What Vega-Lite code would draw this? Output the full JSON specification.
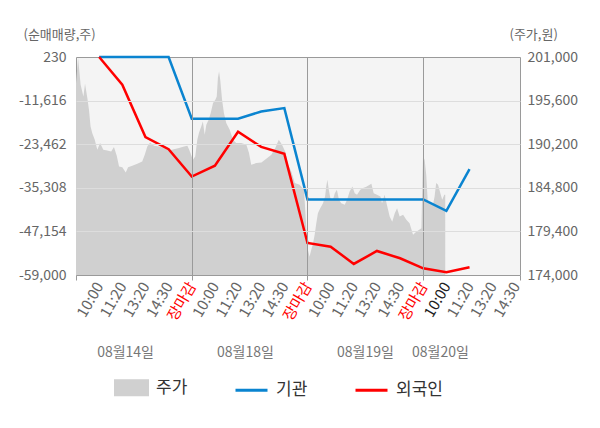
{
  "$schema": "https://vega.github.io/schema/vega-lite/v6.json",
  "width": 444,
  "height": 218,
  "autosize": {"type": "none"},
  "padding": {"left": 76, "top": 57, "right": 80, "bottom": 153},
  "background": "#ffffff",
  "config": {
    "font": "Noto Sans CJK KR",
    "view": {"fill": "#f4f4f4", "stroke": "#9a9a9a"}
  },
  "datasets": {
    "price": [
      {"t": 0, "price": 197780}, {"t": 0.09, "price": 200880}, {"t": 0.2, "price": 197570}, {"t": 0.32, "price": 196110},
      {"t": 0.39, "price": 197690}, {"t": 0.49, "price": 195920}, {"t": 0.56, "price": 194470}, {"t": 0.63, "price": 192390},
      {"t": 0.7, "price": 191580}, {"t": 0.81, "price": 190750}, {"t": 0.92, "price": 189510}, {"t": 1.04, "price": 190340},
      {"t": 1.18, "price": 189510}, {"t": 1.35, "price": 189420}, {"t": 1.52, "price": 189290}, {"t": 1.64, "price": 189840},
      {"t": 1.76, "price": 188760}, {"t": 1.86, "price": 187430}, {"t": 2.0, "price": 187360}, {"t": 2.15, "price": 186690},
      {"t": 2.25, "price": 187360}, {"t": 2.43, "price": 187520}, {"t": 2.65, "price": 187770}, {"t": 2.86, "price": 188050},
      {"t": 2.97, "price": 188890}, {"t": 3.08, "price": 189910}, {"t": 3.2, "price": 190410}, {"t": 3.37, "price": 190000},
      {"t": 3.59, "price": 189910}, {"t": 3.8, "price": 189720}, {"t": 4.02, "price": 189420}, {"t": 4.23, "price": 189590},
      {"t": 4.45, "price": 189720}, {"t": 4.67, "price": 189910}, {"t": 4.81, "price": 190000}, {"t": 4.89, "price": 189510},
      {"t": 5.05, "price": 188270}, {"t": 5.15, "price": 188670}, {"t": 5.24, "price": 190750}, {"t": 5.31, "price": 191580},
      {"t": 5.41, "price": 192390}, {"t": 5.48, "price": 193010}, {"t": 5.56, "price": 191370}, {"t": 5.63, "price": 192610},
      {"t": 5.73, "price": 193230}, {"t": 5.82, "price": 194060}, {"t": 5.92, "price": 195300}, {"t": 6.02, "price": 195710},
      {"t": 6.08, "price": 196110}, {"t": 6.13, "price": 198430}, {"t": 6.18, "price": 199210}, {"t": 6.23, "price": 198190},
      {"t": 6.31, "price": 195710}, {"t": 6.39, "price": 194060}, {"t": 6.49, "price": 192820}, {"t": 6.64, "price": 191990},
      {"t": 6.78, "price": 190750}, {"t": 6.92, "price": 190340}, {"t": 7.14, "price": 190340}, {"t": 7.36, "price": 190130},
      {"t": 7.47, "price": 189130}, {"t": 7.57, "price": 187650}, {"t": 7.79, "price": 187860}, {"t": 8.01, "price": 187930},
      {"t": 8.22, "price": 188390}, {"t": 8.44, "price": 188890}, {"t": 8.61, "price": 189720}, {"t": 8.76, "price": 190750},
      {"t": 8.9, "price": 190130}, {"t": 9.04, "price": 189260}, {"t": 9.16, "price": 187650}, {"t": 9.3, "price": 186810},
      {"t": 9.45, "price": 185380}, {"t": 9.66, "price": 185170}, {"t": 9.85, "price": 184550}, {"t": 9.95, "price": 179800},
      {"t": 10.02, "price": 177110}, {"t": 10.09, "price": 176270}, {"t": 10.16, "price": 177110}, {"t": 10.24, "price": 177940},
      {"t": 10.31, "price": 178970}, {"t": 10.38, "price": 180420}, {"t": 10.45, "price": 181660}, {"t": 10.55, "price": 182280},
      {"t": 10.67, "price": 182900}, {"t": 10.76, "price": 183710}, {"t": 10.81, "price": 184950}, {"t": 10.86, "price": 185790},
      {"t": 10.92, "price": 184550}, {"t": 10.99, "price": 183520}, {"t": 11.1, "price": 183310}, {"t": 11.18, "price": 184140},
      {"t": 11.27, "price": 184550}, {"t": 11.36, "price": 183310}, {"t": 11.46, "price": 182900}, {"t": 11.61, "price": 182690},
      {"t": 11.71, "price": 183310}, {"t": 11.82, "price": 184330}, {"t": 11.94, "price": 184950}, {"t": 12.04, "price": 184140},
      {"t": 12.14, "price": 183930}, {"t": 12.28, "price": 184550}, {"t": 12.4, "price": 184760}, {"t": 12.54, "price": 184920},
      {"t": 12.76, "price": 185290}, {"t": 12.86, "price": 184140}, {"t": 13.0, "price": 183930}, {"t": 13.15, "price": 183710},
      {"t": 13.22, "price": 182900}, {"t": 13.33, "price": 183930}, {"t": 13.43, "price": 182690}, {"t": 13.55, "price": 181230},
      {"t": 13.66, "price": 180610}, {"t": 13.77, "price": 181660}, {"t": 13.87, "price": 182280}, {"t": 13.98, "price": 181230},
      {"t": 14.13, "price": 181450}, {"t": 14.27, "price": 180830}, {"t": 14.41, "price": 180420}, {"t": 14.56, "price": 178970},
      {"t": 14.7, "price": 179370}, {"t": 14.92, "price": 179800},
      {"t": 14.99, "price": 188670}, {"t": 15.06, "price": 188270}, {"t": 15.13, "price": 186410}, {"t": 15.19, "price": 183310},
      {"t": 15.28, "price": 182900}, {"t": 15.42, "price": 182690}, {"t": 15.49, "price": 183710}, {"t": 15.56, "price": 185380},
      {"t": 15.64, "price": 185170}, {"t": 15.74, "price": 184140}, {"t": 15.82, "price": 183310}, {"t": 15.91, "price": 183930},
      {"t": 15.95, "price": 183930}
    ],
    "flow": [
      {"series": "기관", "t": 1, "qty": 230}, {"series": "기관", "t": 2, "qty": 230}, {"series": "기관", "t": 3, "qty": 230},
      {"series": "기관", "t": 4, "qty": 230}, {"series": "기관", "t": 5, "qty": -16557}, {"series": "기관", "t": 6, "qty": -16557},
      {"series": "기관", "t": 7, "qty": -16557}, {"series": "기관", "t": 8, "qty": -14570}, {"series": "기관", "t": 9, "qty": -13645},
      {"series": "기관", "t": 10, "qty": -38458}, {"series": "기관", "t": 11, "qty": -38458}, {"series": "기관", "t": 12, "qty": -38458},
      {"series": "기관", "t": 13, "qty": -38458}, {"series": "기관", "t": 14, "qty": -38458}, {"series": "기관", "t": 15, "qty": -38458},
      {"series": "기관", "t": 16, "qty": -41588}, {"series": "기관", "t": 17, "qty": -30242},
      {"series": "외국인", "t": 1, "qty": 230}, {"series": "외국인", "t": 2, "qty": -7307}, {"series": "외국인", "t": 3, "qty": -21536},
      {"series": "외국인", "t": 4, "qty": -24800}, {"series": "외국인", "t": 5, "qty": -32255}, {"series": "외국인", "t": 6, "qty": -29300},
      {"series": "외국인", "t": 7, "qty": -20094}, {"series": "외국인", "t": 8, "qty": -24175}, {"series": "외국인", "t": 9, "qty": -26080},
      {"series": "외국인", "t": 10, "qty": -50293}, {"series": "외국인", "t": 11, "qty": -51300}, {"series": "외국인", "t": 12, "qty": -56000},
      {"series": "외국인", "t": 13, "qty": -52470}, {"series": "외국인", "t": 14, "qty": -54456}, {"series": "외국인", "t": 15, "qty": -57177},
      {"series": "외국인", "t": 16, "qty": -58265}, {"series": "외국인", "t": 17, "qty": -56905}
    ]
  },
  "layer": [
    {
      "data": {"name": "price"},
      "mark": {"type": "area", "clip": true, "interpolate": "linear"},
      "encoding": {
        "x": {
          "field": "t", "type": "quantitative",
          "scale": {"domain": [0, 19.18], "nice": false, "zero": false},
          "axis": {
            "orient": "bottom",
            "values": [0, 1, 2, 3, 4, 5, 6, 7, 8, 9, 10, 11, 12, 13, 14, 15, 16, 17, 18, 19, 19.18],
            "labelExpr": "datum.value == 0 || datum.value > 19.1 ? '' : datum.value % 5 == 0 ? '장마감' : ['10:00','11:20','13:20','14:30'][datum.value % 5 - 1]",
            "labelAngle": -60, "labelAlign": "right", "labelBaseline": "middle",
            "labelFontSize": 15, "labelPadding": 3, "labelOverlap": false, "labelFlush": false,
            "labelColor": {"condition": [{"test": "datum.value == 16", "value": "#222222"}, {"test": "datum.value % 5 == 0", "value": "#ff0000"}], "value": "#666666"},
            "domain": false, "tickSize": 5, "tickColor": "#9a9a9a",
            "tickOpacity": {"condition": {"test": "datum.value % 5 == 0 || datum.value > 19.1", "value": 1}, "value": 0},
            "grid": true, "gridColor": "#9a9a9a",
            "gridOpacity": {"condition": {"test": "datum.value == 5 || datum.value == 10 || datum.value == 15", "value": 1}, "value": 0},
            "zindex": 1, "title": null
          }
        },
        "y": {
          "field": "price", "type": "quantitative",
          "scale": {"domain": [174000, 201000], "nice": false, "zero": false},
          "axis": {
            "orient": "right",
            "values": [174000, 179400, 184800, 190200, 195600, 201000],
            "labelExpr": "format(datum.value, ',')", "labelFontSize": 14, "labelColor": "#666666", "labelPadding": 7,
            "domain": false, "ticks": false, "grid": false,
            "title": "(주가,원)", "titleAngle": 0, "titleX": -11, "titleY": -23,
            "titleAlign": "left", "titleBaseline": "middle", "titleFontSize": 13,
            "titleFontWeight": "normal", "titleColor": "#666666"
          }
        },
        "color": {
          "datum": "주가", "type": "nominal", "title": null,
          "scale": {"domain": ["주가", "기관", "외국인"], "range": ["#d0d0d0", "#0a84d0", "#ff0000"]},
          "legend": {
            "orient": "none", "legendX": 38, "legendY": 313, "direction": "horizontal", "title": null,
            "labelFontSize": 17, "labelColor": "#333333", "labelOffset": 7, "columnPadding": 41,
            "symbolSize": 1024,
            "encode": {
              "symbols": {
                "update": {
                  "shape": {"signal": "datum.value === '주가' ? 'M-1,-0.44H1V0.44H-1Z' : 'M-1,0H1'"},
                  "fill": {"signal": "datum.value === '주가' ? '#d0d0d0' : 'transparent'"},
                  "stroke": {"signal": "datum.value === '주가' ? 'transparent' : (datum.value === '기관' ? '#0a84d0' : '#ff0000')"},
                  "strokeWidth": {"value": 3},
                  "size": {"value": 1024},
                  "opacity": {"value": 1}
                }
              }
            }
          }
        }
      }
    },
    {
      "data": {"name": "flow"},
      "mark": {"type": "line", "strokeWidth": 2.5},
      "encoding": {
        "x": {
          "field": "t", "type": "quantitative",
          "scale": {"domain": [0, 19.18], "nice": false, "zero": false},
          "axis": {
            "orient": "bottom",
            "values": [2.12, 7.3, 12.48, 15.72],
            "labelExpr": "datum.value < 3 ? '08월14일' : datum.value < 8 ? '08월18일' : datum.value < 13 ? '08월19일' : '08월20일'",
            "domain": false, "ticks": false, "tickSize": 0, "grid": false,
            "labelAngle": 0, "labelAlign": "center", "labelBaseline": "middle",
            "labelPadding": 77, "labelFontSize": 14, "labelColor": "#777777",
            "labelOverlap": false, "labelFlush": false, "title": null
          }
        },
        "y": {
          "field": "qty", "type": "quantitative",
          "scale": {"domain": [-59000, 230], "nice": false, "zero": false},
          "axis": {
            "orient": "left",
            "values": [230, -11616, -23462, -35308, -47154, -59000],
            "labelExpr": "replace(format(datum.value, ','), '\u2212', '-')",
            "labelFontSize": 14, "labelColor": "#666666", "labelPadding": 10,
            "domain": false, "ticks": false,
            "grid": true, "gridColor": "#dddddd",
            "gridOpacity": {"condition": {"test": "datum.value == 230 || datum.value == -59000", "value": 0}, "value": 1},
            "zindex": 1,
            "title": "(순매매량,주)", "titleAngle": 0, "titleX": -53, "titleY": -23,
            "titleAlign": "left", "titleBaseline": "middle", "titleFontSize": 13,
            "titleFontWeight": "normal", "titleColor": "#666666"
          }
        },
        "color": {
          "field": "series", "type": "nominal", "title": null,
          "scale": {"domain": ["주가", "기관", "외국인"], "range": ["#d0d0d0", "#0a84d0", "#ff0000"]},
          "legend": {"title": null}
        }
      }
    }
  ],
  "resolve": {"scale": {"y": "independent"}, "axis": {"x": "independent"}}
}
